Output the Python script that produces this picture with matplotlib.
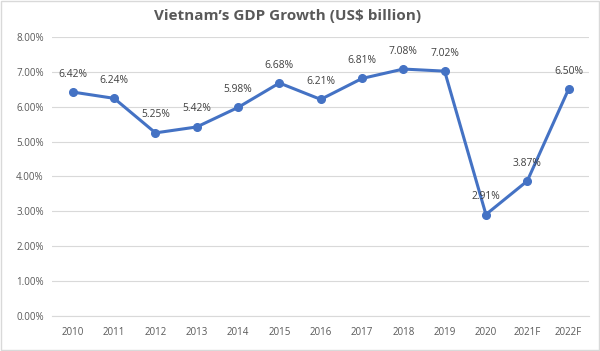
import matplotlib.pyplot as plt
from matplotlib.patches import Rectangle

years = ['2010', '2011', '2012', '2013', '2014', '2015', '2016',
         '2017', '2018', '2019', '2020', '2021F', '2022F']
growth = [6.42, 6.24, 5.25, 5.42, 5.98, 6.68, 6.21,
          6.81, 7.08, 7.02, 2.91, 3.87, 6.50]
yticks = [0, 1, 2, 3, 4, 5, 6, 7, 8]

txt = '#595959'
blue = '#4472C4'

plt.rcParams['font.family'] = ['Open Sans', 'DejaVu Sans']

fig = plt.figure(figsize=(6, 3.51), dpi=100)
fig.patches.append(Rectangle((0.002, 0.003), 0.996, 0.994, transform=fig.transFigure,
                             fill=False, edgecolor='#D9D9D9', lw=1))
ax = fig.add_axes([0.087, 0.0997, 0.895, 0.795])

x = range(len(years))
ax.plot(x, growth, color=blue, lw=2.2, marker='o', ms=5.5, zorder=3)
for i, v in enumerate(growth):
    ax.annotate(f'{v:.2f}%', (i, v), xytext=(0, 9), textcoords='offset points',
                ha='center', va='bottom', fontsize=7.4, color='#404040')

ax.set_xlim(-0.5, len(years) - 0.5)
ax.set_ylim(0, 8)
ax.set_yticks(yticks)
ax.set_yticklabels([f'{t:.2f}%' for t in yticks])
ax.set_xticks(list(x))
ax.set_xticklabels(years)
ax.tick_params(length=0, labelsize=7, colors=txt, pad=8)
ax.tick_params(axis='y', pad=6)
ax.grid(axis='y', color='#D9D9D9', lw=0.8)
ax.set_axisbelow(True)
for s in ax.spines.values():
    s.set_visible(False)
ax.spines['bottom'].set_visible(True)
ax.spines['bottom'].set_color('#D9D9D9')

fig.text(0.48, 0.955, 'Vietnam\u2019s GDP Growth (US$ billion)', ha='center', va='center',
         fontsize=11, fontweight='bold', color=txt)

fig.savefig('out.png', dpi=100)
